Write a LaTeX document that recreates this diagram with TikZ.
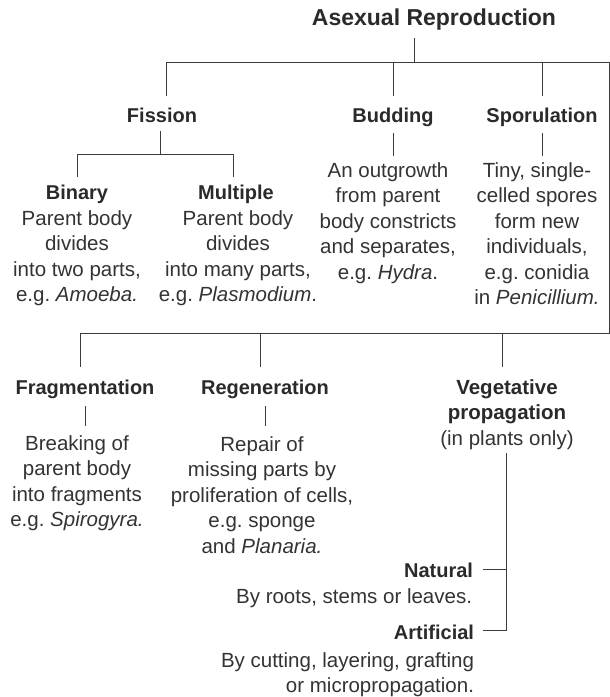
\documentclass[tikz,border=0pt]{standalone}
\usepackage{fontspec}
\setmainfont{Liberation Sans}
\definecolor{txt}{HTML}{2A2A2A}
\definecolor{bodytxt}{HTML}{333333}
\definecolor{ln}{HTML}{3C3C3C}
\frenchspacing
\begin{document}
\begin{tikzpicture}[x=1pt,y=-1pt,
  every node/.style={inner sep=0pt, outer sep=0pt, text=txt},
  rootlabel/.style={font=\fontsize{23}{28}\selectfont\bfseries, anchor=base},
  head/.style={font=\fontsize{20}{25.5}\selectfont\bfseries, anchor=base},
  body/.style={font=\fontsize{20.5}{25.5}\selectfont, align=center, anchor=base, text=bodytxt},
  conn/.style={draw=ln, line width=1pt}]
\useasboundingbox (0,0) rectangle (610,697);

% nodes (multi-line nodes: base = baseline of last line)
\node[rootlabel] (root) at (434,25) {Asexual Reproduction};
\node[head] (fis) at (162,122) {Fission};
\node[head] (bud) at (393,122) {Budding};
\node[head] (spo) at (542,122) {Sporulation};
\node[head] (bin) at (77,199) {Binary};
\node[head] (mul) at (236,199) {Multiple};
\node[body] (bint) at (77,301.5) {Parent body\\divides\\into two parts,\\e.g. \textit{Amoeba.}};
\node[body] (mult) at (238,301.5) {Parent body\\divides\\into many parts,\\e.g. \textit{Plasmodium}.};
\node[body] (budt) at (388,279) {An outgrowth\\from parent\\body constricts\\and separates,\\e.g. \textit{Hydra}.};
\node[body] (spot) at (537,304.5) {Tiny, single-\\celled spores\\form new\\individuals,\\e.g. conidia\\in \textit{Penicillium.}};
\node[head] (fra) at (85,394) {Fragmentation};
\node[head] (reg) at (265,394) {Regeneration};
\node[body] (veg) at (507,445) {\textcolor{txt}{\textbf{Vegetative}}\\\textcolor{txt}{\textbf{propagation}}\\(in plants only)};
\node[body] (frat) at (77,526.5) {Breaking of\\parent body\\into fragments\\e.g. \textit{Spirogyra.}};
\node[body] (regt) at (262,553) {Repair of\\missing parts by\\proliferation of cells,\\e.g. sponge\\and \textit{Planaria.}};
\node[head, anchor=base east] (nat) at (473,577) {Natural};
\node[body, align=right, anchor=base east] (natt) at (472,603) {By roots, stems or leaves.};
\node[head, anchor=base east] (art) at (474,639) {Artificial};
\node[body, align=right, anchor=base east] (artt) at (474,692.5) {By cutting, layering, grafting\\or micropropagation.};

% connectors
\coordinate (busA) at (0,62);
\draw[conn] (414,38) -- (414,62);
\draw[conn] (166,96) -- (166,62) -- (609,62) -- (609,333) -- (80,333) -- (80,367);
\draw[conn] (bud.north |- busA) -- (393,96);
\draw[conn] (spo.north |- busA) -- (542,96);
\draw[conn] (260,333) -- (260,367);
\draw[conn] (502,333) -- (502,367);
\draw[conn] (160,131) -- (160,154);
\draw[conn] (77,177) -- (77,154) -- (233,154) -- (233,177);
\draw[conn] (393,133) -- (393,156);
\draw[conn] (542,133) -- (542,156);
\draw[conn] (85,406) -- (85,426);
\draw[conn] (265,406) -- (265,426);
\draw[conn] (506,453) -- (506,630) -- (483,630);
\draw[conn] (483,569) -- (506,569);
\end{tikzpicture}
\end{document}
